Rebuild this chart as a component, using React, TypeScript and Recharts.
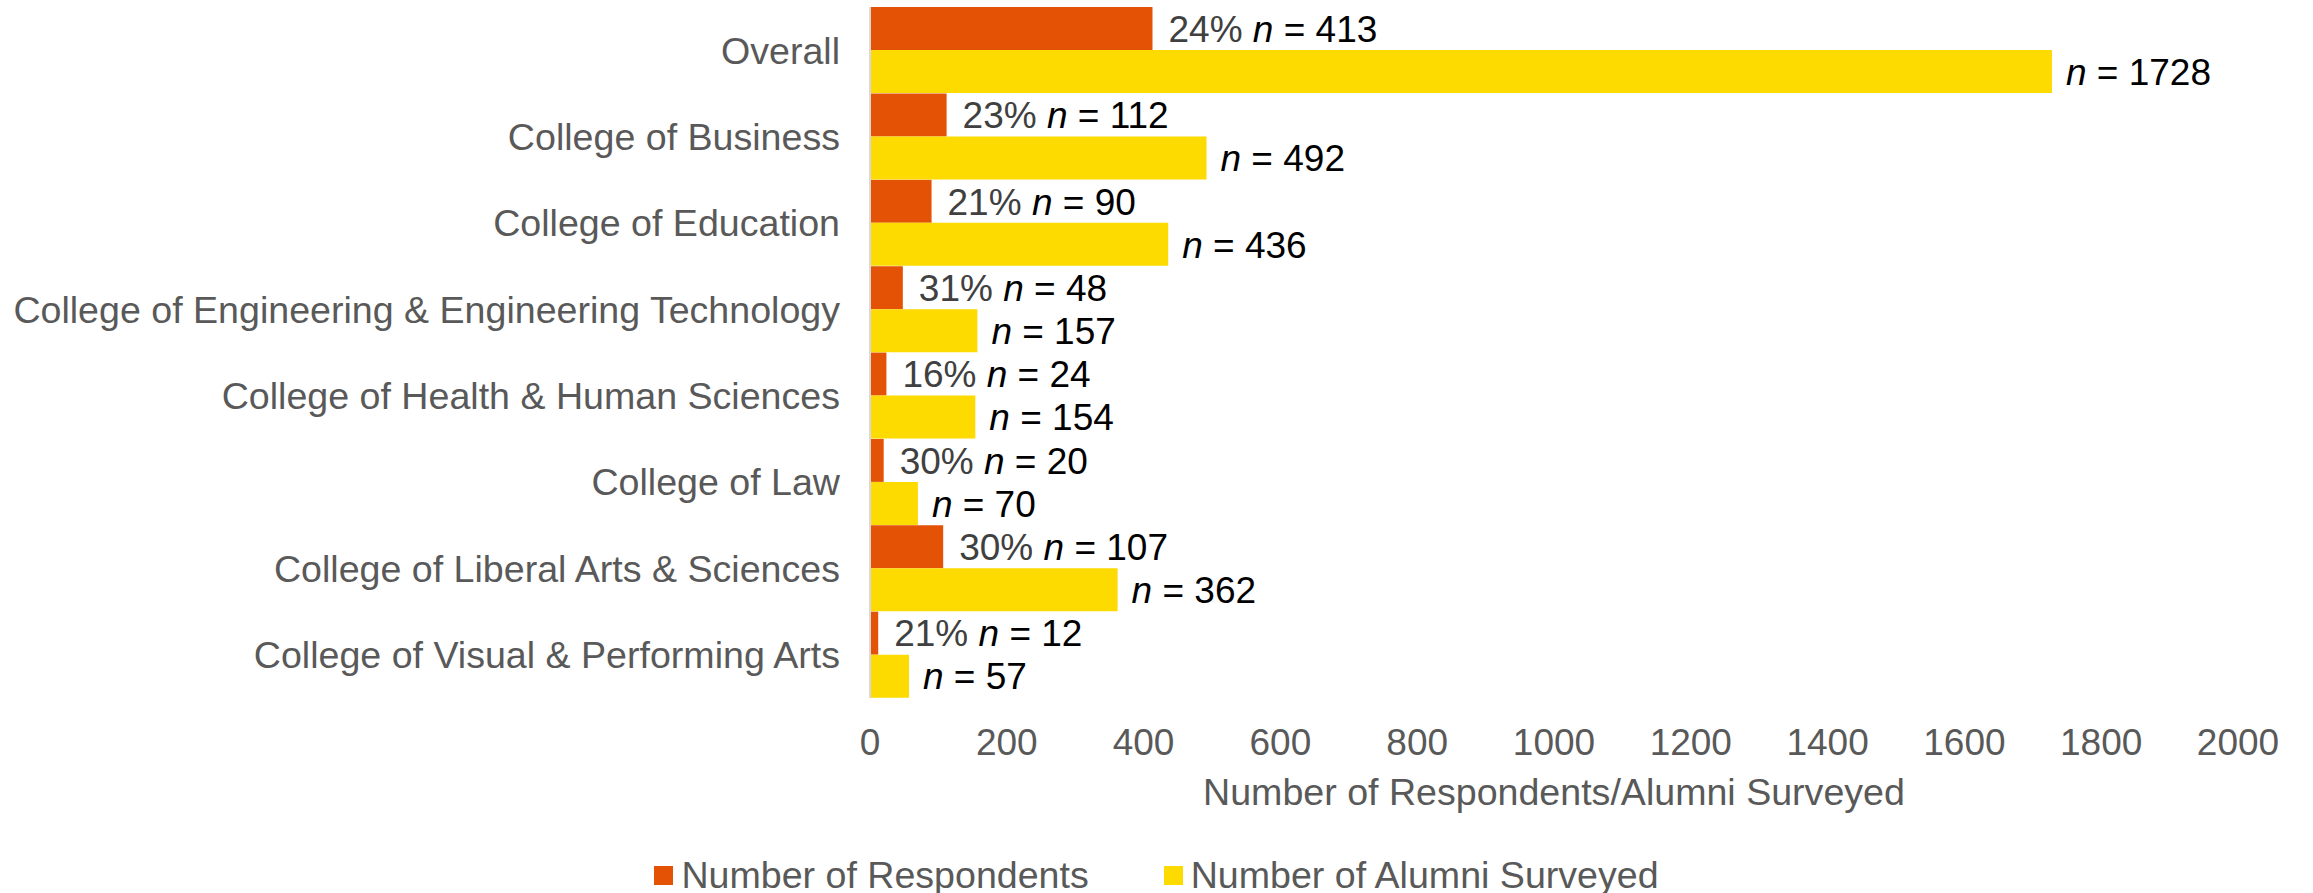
import React from 'react'
import {
  BarChart,
  Bar,
  XAxis,
  YAxis,
  Legend,
  LabelList,
} from 'recharts'

// colleges, top to bottom
const colleges = [
  'Overall',
  'College of Business',
  'College of Education',
  'College of Engineering & Engineering Technology',
  'College of Health & Human Sciences',
  'College of Law',
  'College of Liberal Arts & Sciences',
  'College of Visual & Performing Arts',
]
const respondents = [413, 112, 90, 48, 24, 20, 107, 12]
const surveyed = [1728, 492, 436, 157, 154, 70, 362, 57]
const responseRates = ['24%', '23%', '21%', '31%', '16%', '30%', '30%', '21%']
const xTicks = [0, 200, 400, 600, 800, 1000, 1200, 1400, 1600, 1800, 2000]
const seriesNames = ['Number of Respondents', 'Number of Alumni Surveyed']

const data = colleges.map((name, i) => ({
  name,
  respondents: respondents[i],
  surveyed: surveyed[i],
}))

const FONT = '"Liberation Sans", Arial, sans-serif'
const FS = 37
const FS_CAT = 37.6
const ORANGE = '#E35205'
const YELLOW = '#FDDA00'
const GREY = '#595959'

const RespondentLabel = (props: any) => {
  const { x, y, width, height, index } = props
  const baseline = y + height / 2 + FS * 0.36
  return (
    <text x={x + width + 16} y={baseline} fontSize={FS} fontFamily={FONT} style={{ whiteSpace: 'pre' }}>
      <tspan fill="#404040">{responseRates[index]}</tspan>
      <tspan fill="#000" fontStyle="italic">{' n'}</tspan>
      <tspan fill="#000">{' = ' + respondents[index]}</tspan>
    </text>
  )
}

const SurveyedLabel = (props: any) => {
  const { x, y, width, height, index } = props
  const baseline = y + height / 2 + FS * 0.36
  return (
    <text x={x + width + 14} y={baseline} fontSize={FS} fontFamily={FONT} style={{ whiteSpace: 'pre' }}>
      <tspan fill="#000" fontStyle="italic">n</tspan>
      <tspan fill="#000">{' = ' + surveyed[index]}</tspan>
    </text>
  )
}

const LegendContent = (props: any) => {
  const { payload = [] } = props
  const items = [...payload].sort(
    (a: any, b: any) => seriesNames.indexOf(a.value) - seriesNames.indexOf(b.value),
  )
  return (
    <div
      style={{
        display: 'flex',
        justifyContent: 'center',
        alignItems: 'center',
        height: 50,
        gap: 75,
        fontFamily: FONT,
        fontSize: FS_CAT,
        color: GREY,
      }}
    >
      {items.map((item: any) => (
        <div key={item.value} style={{ display: 'flex', alignItems: 'center', gap: 8 }}>
          <span style={{ width: 19, height: 19, background: item.color, display: 'inline-block' }} />
          <span>{item.value}</span>
        </div>
      ))}
    </div>
  )
}

export default function App() {
  return (
    <div style={{ position: 'absolute', left: 0, top: 0, background: '#fff' }}>
      <BarChart
        width={2313}
        height={893}
        data={data}
        layout="vertical"
        barCategoryGap={0}
        barGap={0}
        margin={{ top: 7, right: 75, bottom: 85, left: 0 }}
      >
        <XAxis
          type="number"
          domain={[0, 2000]}
          ticks={xTicks}
          axisLine={false}
          tickLine={false}
          tickMargin={25}
          height={110}
          tick={{ fill: GREY, fontSize: FS, fontFamily: FONT }}
          label={{
            value: 'Number of Respondents/Alumni Surveyed',
            position: 'insideBottom',
            offset: 3,
            fill: GREY,
            fontSize: FS_CAT,
            fontFamily: FONT,
          }}
        />
        <YAxis
          type="category"
          dataKey="name"
          width={870}
          axisLine={{ stroke: '#D9D9D9', strokeWidth: 2 }}
          tickLine={false}
          tickMargin={24}
          interval={0}
          tick={{ fill: GREY, fontSize: FS_CAT, fontFamily: FONT }}
        />
        <Legend
          layout="horizontal"
          verticalAlign="middle"
          align="center"
          wrapperStyle={{ left: 0, top: 850, width: 2313 }}
          content={<LegendContent />}
        />
        <Bar dataKey="respondents" name={seriesNames[0]} fill={ORANGE} isAnimationActive={false}>
          <LabelList dataKey="respondents" content={<RespondentLabel />} />
        </Bar>
        <Bar dataKey="surveyed" name={seriesNames[1]} fill={YELLOW} isAnimationActive={false}>
          <LabelList dataKey="surveyed" content={<SurveyedLabel />} />
        </Bar>
      </BarChart>
    </div>
  )
}
